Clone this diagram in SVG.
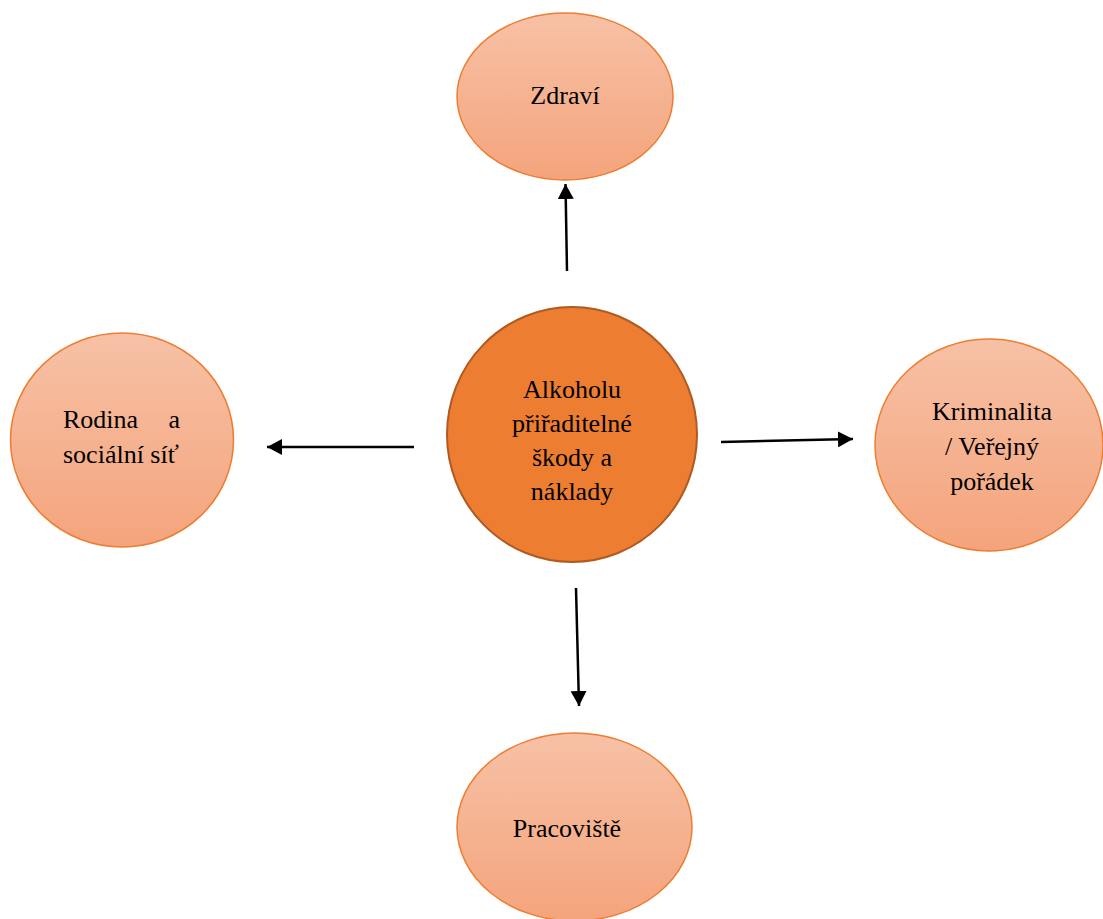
<svg xmlns="http://www.w3.org/2000/svg" width="1103" height="919" viewBox="0 0 1103 919">
<style>
.outer{stroke:#ED7D31;stroke-width:1.5;fill:url(#g)}
.center{fill:#ED7D31;stroke:#AE5A21;stroke-width:2}
text{font-family:"Liberation Serif","Times New Roman",serif;font-size:26px;fill:#000}
.c{text-anchor:middle}
.conn line{stroke:#000;stroke-width:2.5;marker-end:url(#ah)}
</style>
<defs>
<linearGradient id="g" x1="0" y1="0" x2="0" y2="1">
<stop offset="0" stop-color="#F7C1A6"/>
<stop offset="1" stop-color="#F4A47C"/>
</linearGradient>
<marker id="ah" markerUnits="userSpaceOnUse" markerWidth="16" markerHeight="16" refX="15" refY="8" orient="auto">
<path d="M0,0 L15,8 L0,16 z" fill="#000"/>
</marker>
</defs>
<rect width="1103" height="919" fill="#fff"/>
<g id="n-zdravi">
<ellipse class="outer" cx="565" cy="96.5" rx="108" ry="83.5"/>
<text class="c" x="565" y="104">Zdraví</text>
</g>
<g id="n-center">
<ellipse class="center" cx="572" cy="434.5" rx="125" ry="127.5"/>
<text class="c" x="572" y="398">Alkoholu</text>
<text class="c" x="572" y="432">přiřaditelné</text>
<text class="c" x="572" y="466">škody a</text>
<text class="c" x="572" y="500">náklady</text>
</g>
<g id="n-rodina">
<ellipse class="outer" cx="122" cy="440" rx="111.5" ry="107"/>
<text x="63" y="428">Rodina</text>
<text x="180" y="428" text-anchor="end">a</text>
<text x="63" y="463">sociální síť</text>
</g>
<g id="n-kriminalita">
<ellipse class="outer" cx="989" cy="445" rx="114" ry="106"/>
<text class="c" x="992" y="420">Kriminalita</text>
<text class="c" x="992" y="455">/ Veřejný</text>
<text class="c" x="992" y="490">pořádek</text>
</g>
<g id="n-pracoviste">
<ellipse class="outer" cx="574.5" cy="827" rx="117.5" ry="94"/>
<text class="c" x="567" y="837">Pracoviště</text>
</g>
<g id="connectors" class="conn">
<line x1="567" y1="271" x2="565.5" y2="184"/>
<line x1="414" y1="447" x2="267" y2="447"/>
<line x1="721" y1="442" x2="853" y2="439"/>
<line x1="576" y1="588" x2="579" y2="706"/>
</g>
</svg>
